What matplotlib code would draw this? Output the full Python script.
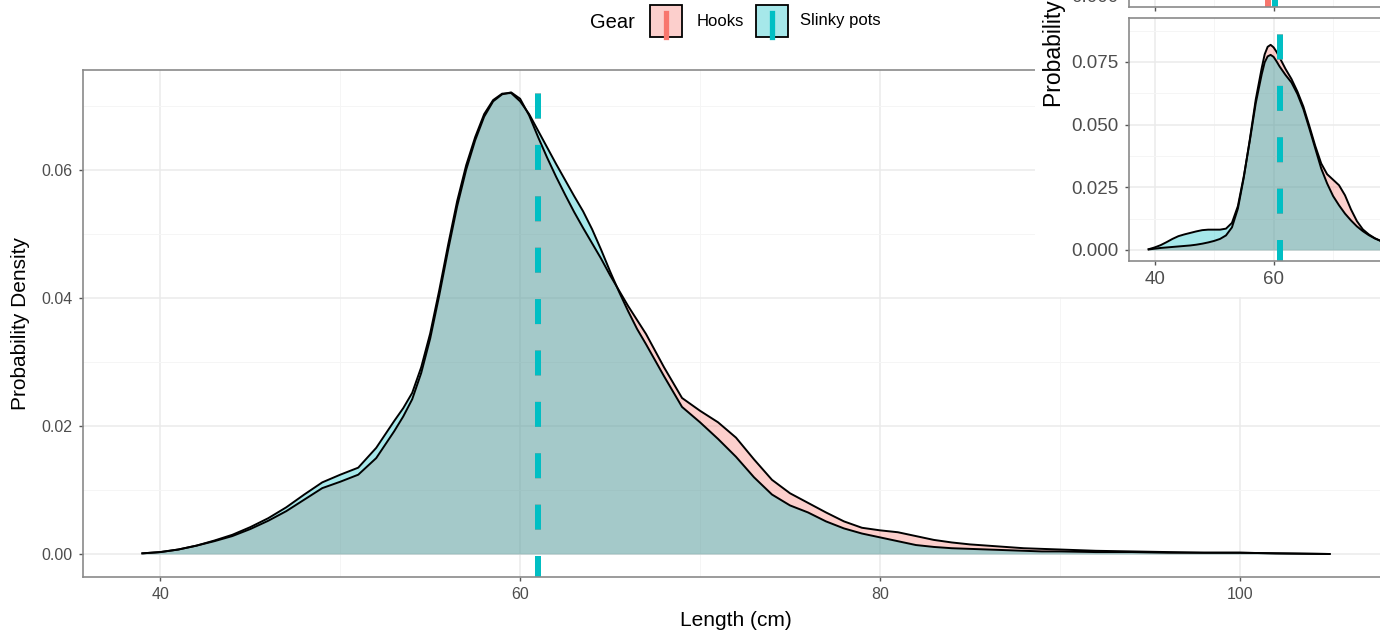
import matplotlib
matplotlib.use("Agg")
import matplotlib.pyplot as plt
from matplotlib.patches import Rectangle
from matplotlib.lines import Line2D

plt.rcParams["font.family"] = ["Liberation Sans", "DejaVu Sans"]
plt.rcParams["lines.scale_dashes"] = False

# ---- data -----------------------------------------------------------------
gear_names = ["Hooks", "Slinky pots"]
gear_colors = ["#F8766D", "#00BFC4"]

# main panel: density of fish length by gear
length_main = [39, 40, 41, 42, 43, 44, 45, 46, 47, 48, 49, 50, 51, 52, 53,
               53.5, 54, 54.5, 55, 55.5, 56, 56.5, 57, 57.5, 58, 58.5, 59, 59.5,
               60, 60.5, 61, 61.5, 62, 62.5, 63, 63.5, 64, 64.5, 65, 65.5, 66,
               66.5, 67, 68, 69, 70, 71, 72, 73, 74, 75, 76, 77, 78, 79, 80, 81,
               82, 83, 84, 85, 86, 87, 88, 89, 90, 92, 94, 96, 98, 100, 102, 105]
hooks_main = [0.0001, 0.0003, 0.0007, 0.0013, 0.0020, 0.0028, 0.0039, 0.0052,
              0.0067, 0.0085, 0.0103, 0.0113, 0.0124, 0.0150, 0.0192,
              0.0215, 0.0242, 0.0283, 0.0337, 0.0404, 0.0476, 0.0544, 0.0601,
              0.0647, 0.0684, 0.0708, 0.0719, 0.0722, 0.0712, 0.0686, 0.0652,
              0.0620, 0.0590, 0.0562, 0.0535, 0.0510, 0.0486, 0.0462, 0.0436,
              0.0412, 0.0388, 0.0366, 0.0344, 0.0292, 0.0244, 0.0224, 0.0206,
              0.0182, 0.0148, 0.0116, 0.0095, 0.0080, 0.0065, 0.0051, 0.0041,
              0.0037, 0.0034, 0.0028, 0.0022, 0.0018, 0.0015, 0.0013, 0.0011,
              0.0009, 0.0008, 0.0007, 0.0005, 0.0004, 0.0003, 0.0002, 0.0002,
              0.0001, 0.0000]
slinky_main = [0.0001, 0.0003, 0.0007, 0.0013, 0.0021, 0.0030, 0.0042, 0.0056,
               0.0073, 0.0093, 0.0112, 0.0124, 0.0135, 0.0166, 0.0208,
               0.0228, 0.0252, 0.0292, 0.0345, 0.0412, 0.0484, 0.0552, 0.0608,
               0.0652, 0.0688, 0.0710, 0.0720, 0.0721, 0.0708, 0.0688, 0.0662,
               0.0636, 0.0610, 0.0585, 0.0560, 0.0536, 0.0508, 0.0476, 0.0442,
               0.0410, 0.0380, 0.0352, 0.0328, 0.0278, 0.0230, 0.0206, 0.0180,
               0.0152, 0.0120, 0.0093, 0.0076, 0.0065, 0.0051, 0.0040, 0.0032,
               0.0026, 0.0020, 0.0014, 0.0011, 0.0009, 0.0008, 0.0007, 0.0006,
               0.0005, 0.0004, 0.0004, 0.0003, 0.0003, 0.0002, 0.0002, 0.0002,
               0.0001, 0.0000]
median_main = [61, 61]

# inset panel
length_inset = [39, 40, 41, 42, 43, 44, 45, 46, 47, 48, 49, 50, 51, 52, 53, 54,
                55, 56, 57, 58, 58.5, 59, 59.5, 60, 60.5, 61, 62, 63, 64, 65,
                66, 67, 68, 69, 70, 71, 72, 73, 74, 75, 76, 77, 78, 79, 80, 82,
                85, 90, 100]
hooks_inset = [0.0002, 0.0005, 0.0008, 0.0010, 0.0012, 0.0014, 0.0016, 0.0018,
               0.0021, 0.0025, 0.0030, 0.0036, 0.0044, 0.0058, 0.0090, 0.0165,
               0.0290, 0.0440, 0.0600, 0.0725, 0.0780, 0.0810, 0.0818, 0.0808,
               0.0790, 0.0768, 0.0722, 0.0682, 0.0632, 0.0572, 0.0495, 0.0415,
               0.0345, 0.0302, 0.0280, 0.0258, 0.0218, 0.0162, 0.0115, 0.0082,
               0.0062, 0.0047, 0.0036, 0.0029, 0.0024, 0.0016, 0.0009, 0.0004,
               0.0001]
slinky_inset = [0.0003, 0.0010, 0.0019, 0.0031, 0.0044, 0.0055, 0.0062, 0.0068,
                0.0074, 0.0079, 0.0081, 0.0081, 0.0081, 0.0085, 0.0108, 0.0175,
                0.0295, 0.0435, 0.0585, 0.0700, 0.0748, 0.0772, 0.0778, 0.0770,
                0.0752, 0.0732, 0.0698, 0.0668, 0.0622, 0.0562, 0.0485, 0.0405,
                0.0325, 0.0265, 0.0215, 0.0178, 0.0145, 0.0118, 0.0094, 0.0075,
                0.0059, 0.0046, 0.0036, 0.0029, 0.0024, 0.0016, 0.0009, 0.0004,
                0.0001]
median_inset = [61, 61]
median_top = [59, 60.3]

W, H = 1380, 632
FILL_ALPHA = 0.35
BORDER = "#8a8a8a"
TICK_TEXT = "#4D4D4D"
DASH = (2.9, (18, 19))


def style_panel(ax, xt, yt, ylabels, xminor, yminor, size):
    ax.set_xticks(xt)
    ax.set_xticklabels([str(v) for v in xt])
    ax.set_yticks(yt)
    ax.set_yticklabels(ylabels)
    ax.set_xticks(xminor, minor=True)
    ax.set_yticks(yminor, minor=True)
    ax.grid(which="major", color="#EBEBEB", lw=1.1)
    ax.grid(which="minor", color="#F5F5F5", lw=0.7)
    ax.set_axisbelow(True)
    ax.tick_params(which="major", length=3, width=1, color="#555555",
                   labelsize=size, labelcolor=TICK_TEXT, pad=4.5)
    ax.tick_params(which="minor", length=0)
    for s in ax.spines.values():
        s.set_color(BORDER)
        s.set_linewidth(1.2)


def draw_densities(ax, xs, curves, medians, lw=1.4):
    for ys, c in zip(curves, gear_colors):
        ax.fill_between(xs, 0, ys, color=c, alpha=FILL_ALPHA, lw=0)
        ax.plot(xs, ys, color="black", lw=lw, solid_joinstyle="round")
    for m, c in zip(medians, gear_colors):
        ax.axvline(m, color=c, lw=4.3, linestyle=DASH)


fig = plt.figure(figsize=(W / 100, H / 100), dpi=100)

# main panel
ax = fig.add_axes([83 / W, 1 - 577 / H, 1306 / W, 507 / H], zorder=1)
draw_densities(ax, length_main, [hooks_main, slinky_main], median_main)
ax.set_xlim(35.7, 108.3)
ax.set_ylim(-0.0036, 0.0757)
style_panel(ax, [40, 60, 80, 100], [0, 0.02, 0.04, 0.06],
            ["0.00", "0.02", "0.04", "0.06"], [50, 70, 90],
            [0.01, 0.03, 0.05, 0.07], 11.5)
ax.set_xlabel("Length (cm)", fontsize=15, labelpad=6)
ax.set_ylabel("Probability Density", fontsize=15, labelpad=8)

# overlay in pixel coordinates: white backing for the inset + legend
ov = fig.add_axes([0, 0, 1, 1], zorder=2)
ov.set_xlim(0, W)
ov.set_ylim(H, 0)
ov.axis("off")
ov.add_patch(Rectangle((1035, 0), W - 1035, 297, facecolor="white", lw=0))

ov.text(590, 22, "Gear", fontsize=14.5, va="center", ha="left")
for name, c, x0, tx in zip(gear_names, gear_colors, [650, 756], [697, 800]):
    ov.add_patch(Rectangle((x0, 5), 32, 32, facecolor=c, alpha=FILL_ALPHA, lw=0))
    ov.add_patch(Rectangle((x0, 5), 32, 32, facecolor="none",
                           edgecolor="black", lw=1.3))
    ov.add_line(Line2D([x0 + 16, x0 + 16], [13, 37], color=c, lw=3.8))
    ov.text(tx, 21, name, fontsize=12, va="center", ha="left")

ov.text(1054, 107, "Probability Density", fontsize=16.5, rotation=90,
        rotation_mode="anchor", ha="left", va="center")

# inset, lower facet
ax_in = fig.add_axes([1129 / W, 1 - 261 / H, 432 / W, 243 / H], zorder=3)
draw_densities(ax_in, length_inset, [hooks_inset, slinky_inset], median_inset)
ax_in.set_xlim(35.7, 108.3)
ax_in.set_ylim(-0.0044, 0.0925)
style_panel(ax_in, [40, 60, 80, 100], [0, 0.025, 0.05, 0.075],
            ["0.000", "0.025", "0.050", "0.075"], [50, 70, 90],
            [0.0125, 0.0375, 0.0625, 0.0875], 13.5)

# inset, upper facet (only its bottom edge is in frame)
ax_top = fig.add_axes([1129 / W, 1 - 7 / H, 432 / W, 243 / H], zorder=3)
for m, c in zip(median_top, gear_colors):
    ax_top.axvline(m, color=c, lw=4.3)
ax_top.set_xlim(35.7, 108.3)
ax_top.set_ylim(-0.0044, 0.0925)
style_panel(ax_top, [40, 60, 80, 100], [0], ["0.000"], [50, 70, 90],
            [0.0125], 13.5)
ax_top.set_xticklabels([])

fig.savefig("out.png", dpi=100)
plt.close(fig)
